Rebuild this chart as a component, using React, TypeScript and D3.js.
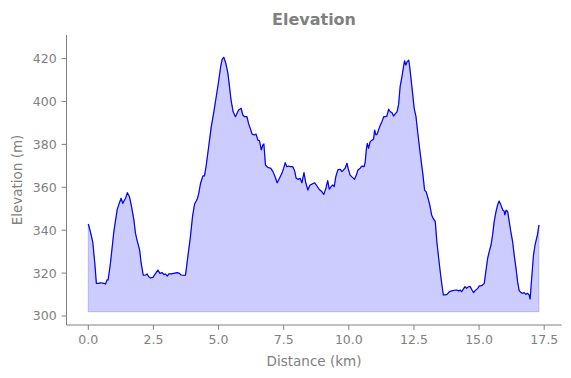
import React from "react";
import * as d3 from "d3";

const distKm = [
  0.0, 0.08, 0.17, 0.25, 0.31, 0.4, 0.47, 0.6, 0.66, 0.72, 0.76, 0.85, 0.98, 1.11, 1.21, 1.26, 1.32, 1.43, 1.5, 1.58,
  1.66, 1.75, 1.81, 1.87, 1.97, 2.03, 2.11, 2.2, 2.26, 2.32, 2.39, 2.48, 2.57, 2.67, 2.75, 2.84, 2.9, 2.96, 3.03, 3.09,
  3.18, 3.28, 3.41, 3.5, 3.56, 3.67, 3.73, 3.82, 3.92, 4.0, 4.08, 4.18, 4.24, 4.31, 4.4, 4.46, 4.52, 4.62, 4.72, 4.81,
  4.91, 5.0, 5.08, 5.14, 5.2, 5.28, 5.36, 5.42, 5.48, 5.56, 5.65, 5.71, 5.77, 5.87, 5.93, 6.0, 6.09, 6.15, 6.23, 6.29,
  6.38, 6.44, 6.51, 6.57, 6.64, 6.7, 6.74, 6.8, 6.89, 7.0, 7.09, 7.17, 7.25, 7.34, 7.43, 7.5, 7.56, 7.62, 7.69, 7.76,
  7.85, 7.92, 7.98, 8.05, 8.13, 8.2, 8.28, 8.34, 8.43, 8.51, 8.59, 8.69, 8.78, 8.86, 8.97, 9.04, 9.12, 9.19, 9.25, 9.32,
  9.38, 9.44, 9.5, 9.58, 9.67, 9.74, 9.8, 9.86, 9.93, 9.99, 10.05, 10.15, 10.22, 10.29, 10.35, 10.44, 10.5, 10.59, 10.63, 10.67,
  10.71, 10.76, 10.82, 10.89, 10.95, 10.99, 11.04, 11.09, 11.14, 11.21, 11.27, 11.34, 11.4, 11.46, 11.53, 11.59, 11.66, 11.72, 11.78, 11.85,
  11.91, 11.97, 12.04, 12.1, 12.14, 12.19, 12.24, 12.3, 12.33, 12.38, 12.45, 12.51, 12.58, 12.65, 12.74, 12.84, 12.91, 12.97, 13.06, 13.11,
  13.18, 13.24, 13.32, 13.38, 13.45, 13.54, 13.63, 13.7, 13.77, 13.86, 13.95, 14.05, 14.14, 14.22, 14.28, 14.33, 14.39, 14.46, 14.52, 14.6,
  14.66, 14.73, 14.79, 14.85, 14.95, 15.01, 15.07, 15.14, 15.2, 15.26, 15.33, 15.39, 15.46, 15.52, 15.58, 15.65, 15.71, 15.77, 15.84, 15.91,
  15.96, 15.99, 16.04, 16.1, 16.16, 16.22, 16.29, 16.35, 16.42, 16.48, 16.54, 16.61, 16.67, 16.73, 16.8, 16.86, 16.92, 16.96, 17.02, 17.09,
  17.15, 17.24, 17.3,
];

const elevM = [
  342.9, 339.3, 334.6, 324.6, 315.2, 315.2, 315.5, 315.2, 314.9, 316.8, 316.8, 324.6, 339.3, 349.7, 353.3, 354.9, 352.5, 354.9, 357.5, 355.6,
  351.0, 344.8, 338.6, 335.4, 330.8, 324.6, 319.0, 319.1, 319.6, 318.3, 317.7, 318.0, 319.6, 321.4, 319.9, 320.2, 319.3, 319.6, 318.6, 319.6,
  319.6, 319.9, 320.2, 319.9, 319.1, 319.0, 319.0, 327.6, 337.0, 346.3, 352.2, 354.4, 357.2, 361.9, 365.3, 365.3, 369.6, 378.9, 388.3, 394.5,
  402.2, 409.2, 416.2, 419.7, 420.6, 417.8, 413.1, 406.9, 400.7, 395.2, 392.9, 394.5, 396.0, 396.8, 393.7, 392.9, 392.9, 389.8, 387.0, 384.8,
  384.4, 384.8, 382.0, 381.7, 377.4, 379.7, 380.2, 370.4, 369.3, 368.9, 367.3, 364.9, 362.1, 364.2, 366.5, 368.9, 371.5, 369.6, 369.9, 369.6,
  369.6, 367.7, 364.2, 363.7, 364.2, 362.1, 366.8, 362.6, 358.7, 361.1, 361.5, 362.1, 360.6, 359.1, 357.9, 356.7, 359.5, 363.1, 359.1, 360.3,
  361.1, 360.3, 364.9, 368.1, 368.4, 367.3, 368.1, 368.9, 371.2, 368.1, 365.7, 364.5, 363.7, 365.7, 368.1, 368.9, 369.9, 369.6, 371.9, 377.4,
  380.5, 378.2, 381.3, 382.0, 382.4, 386.7, 384.4, 384.8, 386.7, 389.0, 390.6, 392.9, 392.9, 393.2, 396.4, 395.2, 394.8, 393.2, 394.2, 395.2,
  398.4, 406.9, 411.6, 416.2, 419.0, 417.0, 418.6, 419.3, 417.0, 411.6, 403.8, 396.8, 392.9, 385.2, 375.9, 366.5, 358.7, 357.9, 354.1, 351.7,
  347.1, 345.5, 344.0, 334.6, 326.9, 317.6, 309.8, 309.8, 310.1, 311.3, 311.7, 312.0, 312.1, 311.7, 312.1, 311.3, 312.4, 313.7, 312.9, 313.7,
  313.7, 312.1, 310.9, 311.8, 312.9, 314.1, 314.0, 314.5, 315.2, 320.7, 326.9, 330.0, 333.1, 337.8, 344.0, 348.6, 351.7, 353.6, 351.7, 349.4,
  349.0, 347.1, 349.4, 348.6, 344.0, 339.3, 334.6, 328.4, 322.2, 316.0, 311.8, 310.9, 310.6, 310.9, 310.1, 310.6, 309.8, 307.9, 317.6, 328.4,
  333.1, 337.8, 342.4,
];

const xTicks = [0, 2.5, 5, 7.5, 10, 12.5, 15, 17.5];
const yTicks = [300, 320, 340, 360, 380, 400, 420];
const fillBase = 302;

const title = "Elevation";
const xLabel = "Distance (km)";
const yLabel = "Elevation (m)";

export default function App() {
  const W = 571;
  const H = 378;
  const left = 66.5;
  const right = 561.5;
  const top = 35;
  const bottom = 325;
  const x = d3.scaleLinear().domain([-0.837, 18.165]).range([left, right]);
  const y = d3.scaleLinear().domain([295.8, 431]).range([bottom, top]);
  const pts = distKm.map((d, i) => [d, elevM[i]] as [number, number]);
  const line = d3
    .line<[number, number]>()
    .x((d) => x(d[0]))
    .y((d) => y(d[1]))(pts) as string;
  const area = d3
    .area<[number, number]>()
    .x((d) => x(d[0]))
    .y0(y(fillBase))
    .y1((d) => y(d[1]))(pts) as string;
  const gray = "#808080";
  const font = "DejaVu Sans, sans-serif";
  const tickLen = 4.9;
  const pad = 4.9;
  return (
    <svg
      width={W}
      height={H}
      style={{ position: "fixed", left: 0, top: 0, background: "#fff" }}
      fontFamily={font}
    >
      <rect x={0} y={0} width={W} height={H} fill="#fff" />
      <path d={area} fill="blue" fillOpacity={0.2} stroke="blue" strokeOpacity={0.2} strokeWidth={1} />
      <path d={line} fill="none" stroke="blue" strokeWidth={1.2} strokeLinejoin="round" />
      <line x1={left} x2={left} y1={top} y2={bottom} stroke={gray} strokeWidth={1} />
      <line x1={left} x2={right} y1={bottom} y2={bottom} stroke={gray} strokeWidth={1} />
      {xTicks.map((t) => (
        <g key={"x" + t}>
          <line x1={x(t)} x2={x(t)} y1={bottom} y2={bottom + tickLen} stroke={gray} strokeWidth={1} />
          <text
            x={x(t)}
            y={bottom + tickLen + pad}
            dominantBaseline="hanging"
            textAnchor="middle"
            fontSize={12.5}
            fill={gray}
          >
            {t.toFixed(1)}
          </text>
        </g>
      ))}
      {yTicks.map((t) => (
        <g key={"y" + t}>
          <line x1={left - tickLen} x2={left} y1={y(t)} y2={y(t)} stroke={gray} strokeWidth={1} />
          <text
            x={left - tickLen - pad}
            y={y(t)}
            dominantBaseline="central"
            textAnchor="end"
            fontSize={12.5}
            fill={gray}
          >
            {t}
          </text>
        </g>
      ))}
      <text x={(left + right) / 2} y={361} textAnchor="middle" dominantBaseline="central" fontSize={13.5} fill={gray}>
        {xLabel}
      </text>
      <text
        transform={`translate(17, ${(top + bottom) / 2}) rotate(-90)`}
        textAnchor="middle"
        dominantBaseline="central"
        fontSize={13.5}
        fill={gray}
      >
        {yLabel}
      </text>
      <text
        x={(left + right) / 2}
        y={19}
        textAnchor="middle"
        dominantBaseline="central"
        fontSize={16}
        fontWeight="bold"
        fill={gray}
      >
        {title}
      </text>
    </svg>
  );
}
